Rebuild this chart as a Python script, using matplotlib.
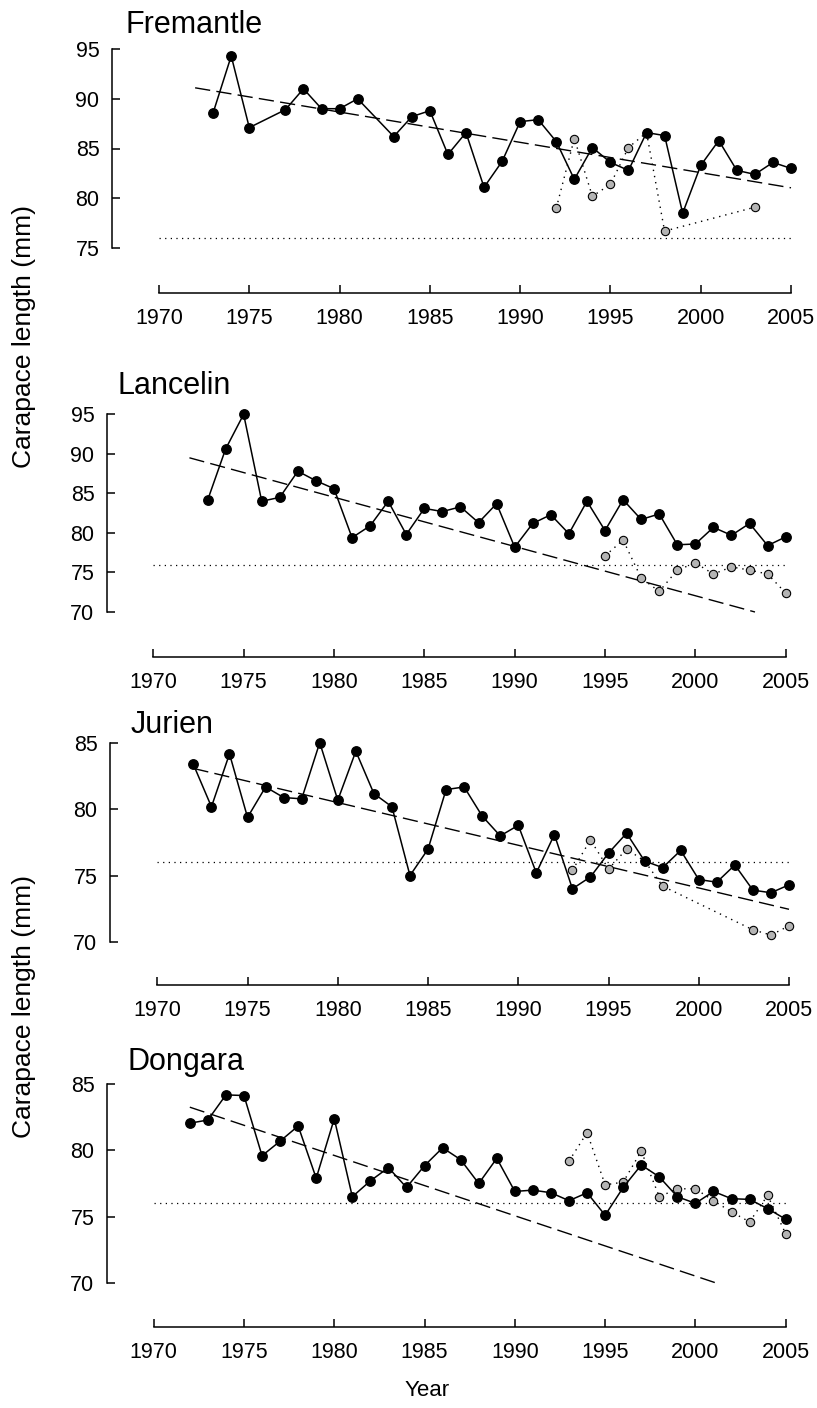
import matplotlib
matplotlib.use('Agg')
from matplotlib import pyplot as plt

plt.rcParams['font.family'] = ['Liberation Sans', 'DejaVu Sans']

W, H = 817, 1408

sites = ['Fremantle', 'Lancelin', 'Jurien', 'Dongara']

# black points (survey mean)
fre_years = [1973, 1974, 1975, 1977, 1978, 1979, 1980, 1981] + list(range(1983, 2006))
fre_vals = [88.6, 94.3, 87.1, 88.9, 91.0, 89.0, 89.0, 90.0, 86.2, 88.2, 88.8, 84.4,
            86.6, 81.1, 83.7, 87.7, 87.9, 85.7, 81.9, 85.1, 83.6, 82.8, 86.6, 86.3,
            78.5, 83.3, 85.8, 82.8, 82.4, 83.6, 83.0]
lan_years = list(range(1973, 2006))
lan_vals = [84.1, 90.6, 95.0, 84.0, 84.5, 87.8, 86.6, 85.6, 79.4, 80.9, 84.0, 79.8,
            83.1, 82.7, 83.3, 81.3, 83.7, 78.2, 81.2, 82.3, 79.9, 84.0, 80.3, 84.2,
            81.7, 82.4, 78.5, 78.6, 80.7, 79.7, 81.2, 78.4, 79.5]
jur_years = list(range(1972, 2006))
jur_vals = [83.4, 80.2, 84.2, 79.4, 81.7, 80.9, 80.8, 85.05, 80.7, 84.4, 81.2, 80.2,
            75.0, 77.0, 81.5, 81.7, 79.5, 78.0, 78.8, 75.2, 78.1, 74.0, 74.9, 76.7,
            78.2, 76.1, 75.6, 76.9, 74.7, 74.5, 75.8, 73.9, 73.7, 74.3]
don_years = list(range(1972, 2006))
don_vals = [82.06, 82.3, 84.2, 84.15, 79.6, 80.7, 81.85, 77.9, 82.4, 76.5, 77.7, 78.7,
            77.2, 78.85, 80.2, 79.3, 77.5, 79.4, 76.9, 77.0, 76.8, 76.2, 76.8, 75.1,
            77.2, 78.9, 78.0, 76.5, 76.0, 76.9, 76.35, 76.3, 75.6, 74.8]

# grey points (second series)
fre_g_years = [1992, 1993, 1994, 1995, 1996, 1997, 1998, 2003]
fre_g_vals = [79.0, 86.0, 80.2, 81.4, 85.1, 86.6, 76.7, 79.1]
lan_g_years = list(range(1995, 2006))
lan_g_vals = [77.1, 79.1, 74.3, 72.6, 75.3, 76.2, 74.8, 75.7, 75.3, 74.8, 72.4]
jur_g_years = [1993, 1994, 1995, 1996, 1997, 1998, 2003, 2004, 2005]
jur_g_vals = [75.4, 77.7, 75.5, 77.0, 76.1, 74.2, 70.9, 70.5, 71.2]
don_g_years = list(range(1993, 2006))
don_g_vals = [79.2, 81.35, 77.4, 77.6, 79.95, 76.5, 77.1, 77.1, 76.2, 75.35, 74.6, 76.6, 73.7]

# fitted trends (end points)
fre_trend = ([1972, 2005], [91.1, 81.05])
lan_trend = ([1972, 2003.3], [89.5, 70.0])
jur_trend = ([1972, 2005], [83.1, 72.45])
don_trend = ([1972, 2001.1], [83.27, 70.0])

ref_years = [1970, 2005]
ref_level = 76

yticks = [[75, 80, 85, 90, 95], [70, 75, 80, 85, 90, 95], [70, 75, 80, 85], [70, 75, 80, 85]]
xticks = list(range(1970, 2006, 5))

black = [(fre_years, fre_vals), (lan_years, lan_vals), (jur_years, jur_vals), (don_years, don_vals)]
grey = [(fre_g_years, fre_g_vals), (lan_g_years, lan_g_vals), (jur_g_years, jur_g_vals), (don_g_years, don_g_vals)]
trends = [fre_trend, lan_trend, jur_trend, don_trend]

# pixel layout: spine x, x-axis y, px of 1970, px of 2005, (ylo, px), (yhi, px)
layout = [
    (112, 293, 159.0, 791.0, 75, 248.0, 95, 49.0),
    (107, 656.5, 153.3, 785.7, 70, 612.0, 95, 414.3),
    (110, 985, 157.3, 789.0, 70, 941.7, 85, 743.3),
    (107, 1327, 153.7, 785.7, 70, 1282.7, 85, 1084.3),
]
titles_pos = [(126, 33), (118, 394), (131, 733), (128, 1070)]

fig = plt.figure(figsize=(W / 100, H / 100), dpi=100)

for i, site in enumerate(sites):
    xl, yb, x70, x05, ylo, ylo_px, yhi, yhi_px = layout[i]
    right_px, top_px = 808, yhi_px - 15
    sx = (x05 - x70) / 35.0
    sy = (ylo_px - yhi_px) / (yhi - ylo)
    ax = fig.add_axes([xl / W, 1 - yb / H, (right_px - xl) / W, (yb - top_px) / H])
    ax.set_xlim(1970 - (x70 - xl) / sx, 1970 + (right_px - x70) / sx)
    ax.set_ylim(ylo - (yb - ylo_px) / sy, ylo + (ylo_px - top_px) / sy)

    ax.plot(ref_years, [ref_level, ref_level], color='black', lw=0.9, dashes=(1, 3.5))
    tx, tv = trends[i]
    ax.plot(tx, tv, color='black', lw=1.0, dashes=(11, 4.5))
    gx, gv = grey[i]
    ax.plot(gx, gv, color='black', lw=1.0, dashes=(1, 3.5), marker='o', ms=6,
            mfc='#b4b4b4', mec='black', mew=0.8, clip_on=False)
    bx, bv = black[i]
    ax.plot(bx, bv, color='black', lw=1.1, marker='o', ms=6.8, mfc='black',
            mec='black', clip_on=False)

    for s in ['top', 'right']:
        ax.spines[s].set_visible(False)
    ax.spines['left'].set_bounds(yticks[i][0], yticks[i][-1])
    ax.spines['bottom'].set_bounds(1970, 2005)
    ax.spines['left'].set_linewidth(1.1)
    ax.spines['bottom'].set_linewidth(1.1)
    ax.set_xticks(xticks)
    ax.set_yticks(yticks[i])
    ax.tick_params(direction='in', length=6, width=1.1, labelsize=15.5)
    ax.tick_params(axis='x', pad=11)
    ax.tick_params(axis='y', pad=9)

    fig.text(titles_pos[i][0] / W, 1 - titles_pos[i][1] / H, site, fontsize=22,
             ha='left', va='baseline')

fig.text(24 / W, 1 - 337 / H, 'Carapace length (mm)', rotation=90, fontsize=19,
         ha='center', va='center')
fig.text(24 / W, 1 - 1007 / H, 'Carapace length (mm)', rotation=90, fontsize=19,
         ha='center', va='center')
fig.text(427 / W, 1 - 1391 / H, 'Year', fontsize=16, ha='center', va='center')

plt.savefig('out.png', dpi=100)
